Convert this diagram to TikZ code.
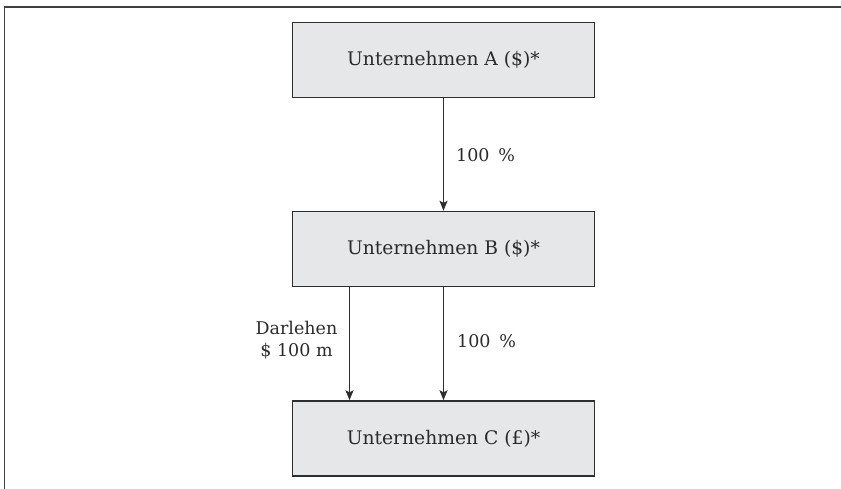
\documentclass[tikz,border=0pt]{standalone}
\usepackage{fontspec}
\setmainfont{DejaVu Serif}
\usetikzlibrary{arrows.meta}
\definecolor{boxfill}{HTML}{E6E7E8}
\definecolor{boxline}{HTML}{2E2E2E}
\definecolor{txt}{HTML}{2A2A2A}
\begin{document}
\begin{tikzpicture}[x=1pt,y=1pt,
  company/.style={draw=boxline,line width=1.4pt,fill=boxfill,minimum width=302pt,minimum height=75pt,inner sep=0pt,font=\fontsize{18.7}{22}\selectfont,text=txt},
  lbl/.style={font=\fontsize{17.5}{22.5}\selectfont,text=txt,inner sep=0pt},
  conn/.style={draw=boxline,line width=1.2pt,-{Stealth[length=10pt,width=8pt,inset=2pt]}}]
\useasboundingbox (0,0) rectangle (841,-489);
\draw[line width=1.4pt,draw=black!75] (4.5,-489) -- (4.5,-7) -- (841,-7);
\node[company] (A) at (443.5,-60) {Unternehmen A (\$)*};
\node[company] (B) at (443.5,-249) {Unternehmen B (\$)*};
\node[company] (C) at (443.5,-438.5) {Unternehmen C (£)*};
\draw[conn] (A.south) -- (B.north);
\draw[conn] ([xshift=-94pt]B.south) -- ([xshift=-94pt]C.north);
\draw[conn] (B.south) -- (C.north);
\node[lbl,anchor=west] (l1) at (456,-155) {100\hspace{0.5em}\%};
\node[lbl,anchor=west] (l2) at (457,-341) {100\hspace{0.5em}\%};
\node[lbl,align=center] (l3) at (296.5,-340) {Darlehen\\\$ 100 m};
\end{tikzpicture}
\end{document}
